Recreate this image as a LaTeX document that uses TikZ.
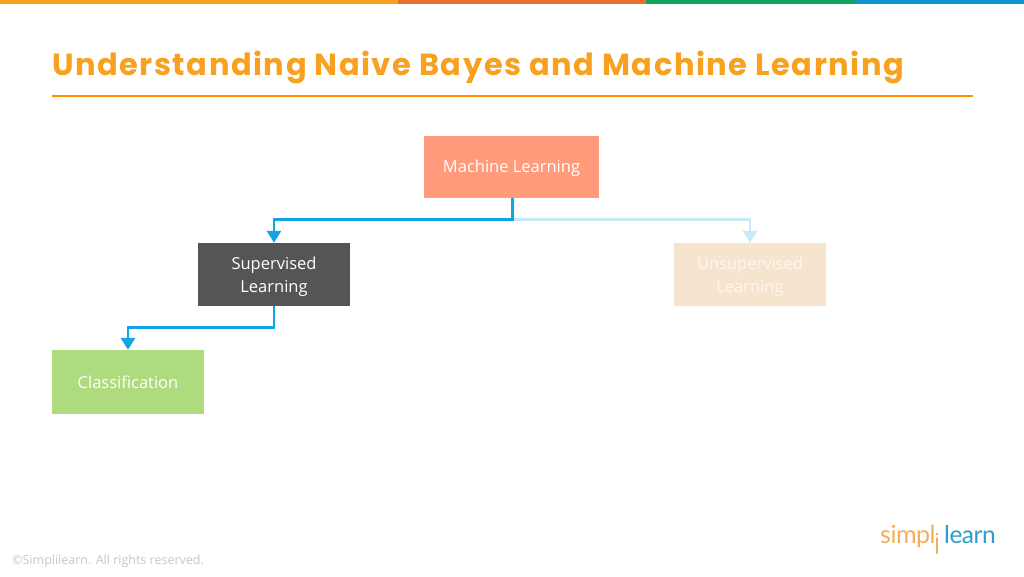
\documentclass[tikz,border=0pt]{standalone}
\usepackage{fontspec}
\setmainfont{Open Sans}
\newfontfamily\titlefont[LetterSpace=5]{Poppins}
\newfontfamily\logofont[LetterSpace=-2]{Lato}
\usetikzlibrary{arrows.meta}
\definecolor{cOrange}{HTML}{F8A01F}
\definecolor{cRule}{HTML}{FF9000}
\definecolor{cBar}{HTML}{F9A11F}
\definecolor{cBarB}{HTML}{E8702A}
\definecolor{cBarC}{HTML}{12A561}
\definecolor{cBarD}{HTML}{1194D2}
\definecolor{cSalmon}{HTML}{FF9A7B}
\definecolor{cDark}{HTML}{555555}
\definecolor{cSand}{HTML}{F7E4CE}
\definecolor{cGreen}{HTML}{ADDB7E}
\definecolor{cArrow}{HTML}{12A5E6}
\definecolor{cFaint}{HTML}{C9E9F8}
\definecolor{cLogoO}{HTML}{F3AE5A}
\definecolor{cLogoB}{HTML}{2E9CCB}
\tikzset{
  x=1pt,y=-1pt,
  boxnode/.style={minimum width=#1,inner sep=0pt,align=center,text=white,font=\fontsize{16.5}{23}\selectfont},
  boxnode/.default=152pt,
  flow/.style={line width=2.8pt,cArrow,-{Triangle[length=12pt,width=14pt]}},
  flowfaint/.style={line width=2.8pt,cFaint,-{Triangle[length=12pt,width=14pt]}},
}
\begin{document}
\begin{tikzpicture}
\useasboundingbox (0,0) rectangle (1024,576);
\fill[white] (0,0) rectangle (1024,576);
\fill[cBar] (0,0) rectangle (398,4);
\fill[cBarB] (398,0) rectangle (646,4);
\fill[cBarC] (646,0) rectangle (856,4);
\fill[cBarD] (856,0) rectangle (1024,4);
\node[anchor=base west,inner sep=0pt,text=cOrange,font=\titlefont\bfseries\fontsize{30.5}{34}\selectfont] (title) at (52,75) {Understanding Naive Bayes and Machine Learning};
\fill[cRule] (52,94.6) rectangle (973,96.6);

\node[boxnode=175pt,minimum height=62pt,fill=cSalmon,text depth=0pt] (ml) at (511.5,166.5) {Machine Learning};
\node[boxnode,minimum height=63pt,fill=cDark,text depth=0pt] (sl) at (274,274.5) {Supervised\\Learning};
\node[boxnode,minimum height=63pt,fill=cSand,text=white!70!cSand,text depth=0pt] (ul) at (750,274.5) {Unsupervised\\Learning};
\node[boxnode,minimum height=64pt,fill=cGreen] (cl) at (128,382) {Classification};

\draw[flowfaint] ([xshift=1pt]ml.south) |- ([yshift=23pt]ul.north) -- (ul.north);
\draw[flow] ([xshift=1pt]ml.south) |- ([yshift=23pt]sl.north) -- (sl.north);
\draw[flow] (sl.south) |- ([yshift=22pt]cl.north) -- (cl.north);

\node[anchor=base west,inner sep=0pt,text=black!22,font=\fontsize{12.5}{15}\selectfont] (copy) at (12,564) {©Simplilearn. All rights reserved.};

\node[anchor=base west,inner sep=0pt,text=cLogoO,font=\logofont\fontsize{25}{30}\selectfont] (logoa) at (880,543.5) {simpl};
\draw[cLogoO,line width=2pt,line cap=round] (937,553) -- (937,538);
\fill[cLogoO] (937,534) circle (1.4pt);
\node[anchor=base west,inner sep=0pt,text=cLogoB,font=\logofont\fontsize{24.5}{30}\selectfont] (logob) at (944,543.5) {learn};
\end{tikzpicture}
\end{document}
